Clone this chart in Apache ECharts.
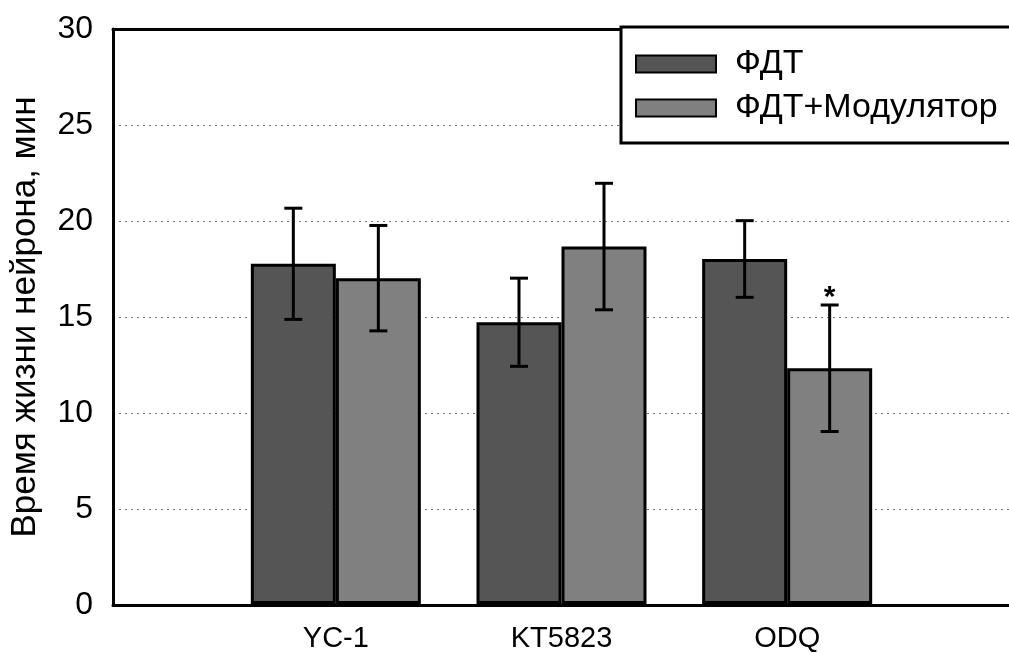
<!DOCTYPE html>
<html>
<head>
<meta charset="utf-8">
<script src="https://cdn.jsdelivr.net/npm/echarts@6/dist/echarts.min.js"></script>
<style>
html,body{margin:0;padding:0;background:#fff;}
#chart{width:1009px;height:653px;}
</style>
</head>
<body>
<div id="chart"></div>
<script>
const categories = ['YC-1', 'KT5823', 'ODQ'];
const seriesNames = ['ФДТ', 'ФДТ+Модулятор'];
const pdtValues = [17.75, 14.7, 18.0];
const pdtErrors = [2.9, 2.3, 2.0];
const modValues = [17.0, 18.65, 12.3];
const modErrors = [2.75, 3.3, 3.3];
const modSignificance = ['', '', '*'];
const yTicks = { min: 0, max: 30, interval: 5 };
const yAxisTitle = 'Время жизни нейрона, мин';

const FONT = '"Liberation Sans", Arial, sans-serif';
const BAR_W = 85;
const colors = ['#555555', '#808080'];

function errorSeries(values, errors, marks, sign) {
  const data = values.map((v, i) => [i, v, errors[i], marks ? marks[i] : '']);
  return {
    type: 'custom',
    xAxisIndex: 2, yAxisIndex: 1,
    z: 10,
    silent: true,
    data: data,
    encode: { x: 0, y: 1 },
    renderItem: function (params, api) {
      const idx = api.value(0), v = api.value(1), e = api.value(2);
      const mark = data[params.dataIndex][3];
      const top = api.coord([idx, v + e]);
      const bot = api.coord([idx, v - e]);
      const x = top[0] + sign * BAR_W / 2;
      const cap = 9;
      const st = { stroke: '#000', lineWidth: 3 };
      const children = [
        { type: 'line', shape: { x1: x, y1: top[1], x2: x, y2: bot[1] }, style: st },
        { type: 'line', shape: { x1: x - cap, y1: top[1], x2: x + cap, y2: top[1] }, style: st },
        { type: 'line', shape: { x1: x - cap, y1: bot[1], x2: x + cap, y2: bot[1] }, style: st }
      ];
      if (mark) {
        children.push({ type: 'text', style: { text: mark, x: x, y: top[1] + 8, align: 'center', verticalAlign: 'bottom', font: 'bold 30px ' + FONT, fill: '#000' } });
      }
      return { type: 'group', children: children };
    }
  };
}

const chart = echarts.init(document.getElementById('chart'), null, { renderer: 'canvas' });
chart.setOption({
  animation: false,
  backgroundColor: '#fff',
  textStyle: { fontFamily: FONT },
  grid: [
    { left: 112, right: 0, top: 29, bottom: 48, containLabel: false },
    { left: 223, right: 109, top: 29, bottom: 48, containLabel: false }
  ],
  legend: {
    data: seriesNames,
    orient: 'vertical',
    icon: 'rect',
    left: 621, top: 27,
    itemWidth: 80, itemHeight: 17, itemGap: 10,
    padding: [20, 140, 18, 14],
    backgroundColor: '#fff',
    borderColor: '#000', borderWidth: 3, borderRadius: 0,
    textStyle: { fontSize: 34, color: '#000', fontFamily: FONT, padding: [0, 0, 0, 14] },
    z: 20
  },
  xAxis: [
    { type: 'value', gridIndex: 0, min: 0, max: 1, position: 'bottom',
      axisLine: { show: true, lineStyle: { color: '#000', width: 3 } },
      axisTick: { show: false }, axisLabel: { show: false }, splitLine: { show: false } },
    { type: 'value', gridIndex: 0, min: 0, max: 1, position: 'top',
      axisLine: { show: true, lineStyle: { color: '#000', width: 3 } },
      axisTick: { show: false }, axisLabel: { show: false }, splitLine: { show: false } },
    { type: 'category', gridIndex: 1, data: categories, position: 'bottom',
      axisLine: { show: false }, axisTick: { show: false },
      axisLabel: { fontSize: 29, color: '#000', margin: 20, fontFamily: FONT } }
  ],
  yAxis: [
    { type: 'value', gridIndex: 0, min: yTicks.min, max: yTicks.max, interval: yTicks.interval,
      name: yAxisTitle, nameLocation: 'middle', nameGap: 70, nameRotate: 90,
      nameTextStyle: { fontSize: 35, color: '#000', fontFamily: FONT },
      axisLine: { show: true, lineStyle: { color: '#000', width: 3 } },
      axisTick: { show: false },
      axisLabel: { fontSize: 32, color: '#000', margin: 20, fontFamily: FONT },
      splitLine: { show: true, lineStyle: { color: '#777', width: 1.2, type: [2, 4] } } },
    { type: 'value', gridIndex: 1, min: yTicks.min, max: yTicks.max, interval: yTicks.interval,
      show: false, splitLine: { show: false } }
  ],
  series: [
    { name: seriesNames[0], type: 'bar', xAxisIndex: 2, yAxisIndex: 1, data: pdtValues,
      barWidth: BAR_W, barGap: '0%', z: 5,
      itemStyle: { color: colors[0], borderColor: '#000', borderWidth: 3 } },
    { name: seriesNames[1], type: 'bar', xAxisIndex: 2, yAxisIndex: 1, data: modValues,
      barWidth: BAR_W, barGap: '0%', z: 5,
      itemStyle: { color: colors[1], borderColor: '#000', borderWidth: 3 } },
    errorSeries(pdtValues, pdtErrors, null, -1),
    errorSeries(modValues, modErrors, modSignificance, 1)
  ]
});
</script>
</body>
</html>
